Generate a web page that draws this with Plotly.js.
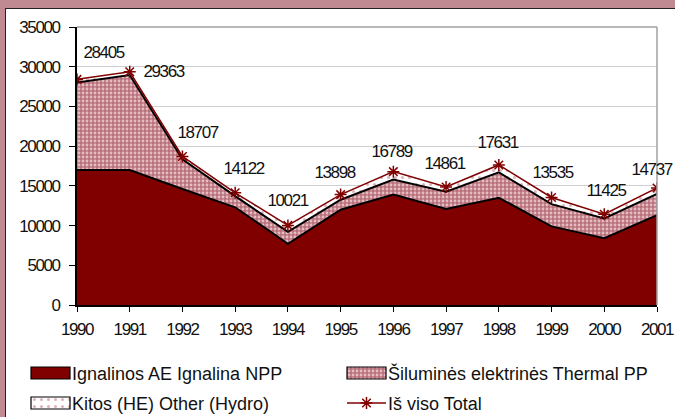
<!DOCTYPE html>
<html><head><meta charset="utf-8">
<script src="https://cdn.plot.ly/plotly-3.0.1.min.js"></script>
<style>
html,body{margin:0;padding:0;background:#fff;}
#wrap{position:relative;width:675px;height:417px;background:#c08a92;overflow:hidden;}
#panel{position:absolute;left:5px;top:8px;width:670px;height:409px;background:#fff;border-left:1px solid #222;border-top:1px solid #222;box-sizing:border-box;}
#chart{position:absolute;left:0;top:0;width:675px;height:417px;}
#chart .xtick text, #chart .ytick text, #chart .annotation-text {letter-spacing:-1.4px;}
</style></head><body>
<div id="wrap"><div id="panel"></div><div id="chart"></div></div>
<script>
// ---- data ----
const years = [1990, 1991, 1992, 1993, 1994, 1995, 1996, 1997, 1998, 1999, 2000, 2001];
const ignalina = [17000, 17000, 14600, 12300, 7700, 12000, 13900, 12100, 13500, 9900, 8400, 11300];
const thermal = [11000, 11950, 3750, 1400, 1500, 1250, 1900, 2150, 3200, 2800, 2500, 2700];
const hydro = [405, 413, 357, 422, 821, 648, 989, 611, 931, 835, 525, 737];
const total = [28405, 29363, 18707, 14122, 10021, 13898, 16789, 14861, 17631, 13535, 11425, 14737];
const seriesNames = ["Ignalinos AE Ignalina NPP", "Šiluminės elektrinės Thermal PP", "Kitos (HE) Other (Hydro)", "Iš viso Total"];
const yTicks = [0, 5000, 10000, 15000, 20000, 25000, 30000, 35000];

// label placement (pixel offsets of each value label from its point)
const labelDx = [26, 34, 15, 8, 0, -6, -2, -2, -1, 1, 2, -6];
const labelDy = [-27, 0, -24, -24, -25, -22, -20, -23, -22, -25, -24, -18];

const NUM = '"Liberation Sans", Arial, sans-serif';
const REG = '"Liberation Sans", Arial, sans-serif';
const NS = 17;

const traces = [
  {x: years, y: ignalina, name: seriesNames[0], type: 'scatter', mode: 'lines', stackgroup: 'a',
   line: {color: '#000', width: 2}, fillcolor: '#800000'},
  {x: years, y: thermal, name: seriesNames[1], type: 'scatter', mode: 'lines', stackgroup: 'a',
   line: {color: '#000', width: 2}, fillcolor: '#c08890',
   fillpattern: {shape: '.', bgcolor: '#b8707a', fgcolor: '#e4bcc1', size: 4, solidity: 0.4}},
  {x: years, y: hydro, name: seriesNames[2], type: 'scatter', mode: 'lines', stackgroup: 'a',
   line: {color: '#000', width: 0}, fillcolor: '#ffffff',
   fillpattern: {shape: '.', bgcolor: '#ffffff', fgcolor: '#dcb4ba', size: 7, solidity: 0.15}},
  {x: years, y: total, name: seriesNames[3], type: 'scatter', mode: 'lines+markers',
   line: {color: '#800000', width: 1.5},
   marker: {symbol: 'asterisk-open', size: 10, color: '#800000', line: {color: '#800000', width: 1.5}}}
];

const annotations = years.map((yr, i) => ({
  x: yr, y: total[i], xref: 'x', yref: 'y', text: String(total[i]), showarrow: false,
  xanchor: 'center', yanchor: 'middle', xshift: labelDx[i], yshift: -labelDy[i],
  font: {family: NUM, size: NS, color: '#111'}
}));

const layout = {
  width: 675, height: 417,
  margin: {l: 77, r: 18, t: 27, b: 112, pad: 0, autoexpand: false},
  paper_bgcolor: 'rgba(0,0,0,0)', plot_bgcolor: '#fff',
  font: {family: NUM, size: NS, color: '#111'},
  showlegend: true,
  xaxis: {type: 'linear', range: [1990, 2001], tickvals: years, ticktext: years.map(String),
    showgrid: false, zeroline: false, showline: true, linecolor: '#000', linewidth: 2,
    ticks: 'outside', ticklen: 5, tickwidth: 1, tickcolor: '#000', ticklabeloverflow: 'allow',
    automargin: false, tickfont: {family: NUM, size: NS, color: '#111'}},
  yaxis: {range: [0, 35000], tickvals: yTicks, ticktext: yTicks.map(String),
    showgrid: true, gridcolor: '#d0d0d0', gridwidth: 1, zeroline: false,
    showline: true, linecolor: '#000', linewidth: 2, automargin: false,
    ticks: 'outside', ticklen: 6, tickwidth: 1, tickcolor: '#000', ticklabelstandoff: 6,
    tickfont: {family: NUM, size: NS, color: '#111'}},
  shapes: [
    {type: 'line', xref: 'paper', yref: 'paper', x0: 0, x1: 1, y0: 1, y1: 1, line: {color: '#a0a0a0', width: 1.5}},
    {type: 'line', xref: 'paper', yref: 'paper', x0: 1, x1: 1, y0: 0, y1: 1, line: {color: '#a0a0a0', width: 1.5}}
  ],
  legend: {orientation: 'h', xref: 'container', x: 31 / 675, xanchor: 'left',
    yref: 'container', y: 1 - 358 / 417, yanchor: 'top',
    traceorder: 'normal', entrywidth: 317, entrywidthmode: 'pixels', itemwidth: 40,
    font: {family: REG, size: 18, color: '#111'}, bgcolor: 'rgba(0,0,0,0)', borderwidth: 0},
  annotations: annotations
};

Plotly.newPlot('chart', traces, layout, {staticPlot: true}).then(gd => {
  // nudge the year labels a little lower, as in the reference
  gd.querySelectorAll('.xtick text').forEach(t => {
    const y = parseFloat(t.getAttribute('y') || '0');
    t.setAttribute('y', y + 3);
  });
  // Excel-like legend: 40x12 swatches, two columns, rows 30px apart
  const sb = gd.querySelector('.legend .scrollbox');
  if (sb) sb.removeAttribute('clip-path');
  const items = gd.querySelectorAll('.legend .traces');
  items.forEach((it, i) => {
    const col = i % 2, row = Math.floor(i / 2);
    it.setAttribute('transform', 'translate(' + (col * 316) + ',' + (15 + row * 30) + ')');
    const fill = it.querySelector('.legendfill path');
    const line = it.querySelector('.legendlines path');
    if (i < 3) {
      if (fill) { fill.setAttribute('d', 'M0,-6h39v12h-39z'); fill.style.stroke = '#000'; fill.style.strokeWidth = '1.2px'; }
      if (line) line.setAttribute('d', '');
    } else {
      if (line) line.setAttribute('d', 'M0,0h39');
      const pts = it.querySelector('.legendpoints path');
      if (pts) pts.setAttribute('transform', 'translate(19.5,0)');
    }
    const txt = it.querySelector('text.legendtext');
    if (txt) txt.setAttribute('x', 41);
  });
});
</script>
</body></html>
